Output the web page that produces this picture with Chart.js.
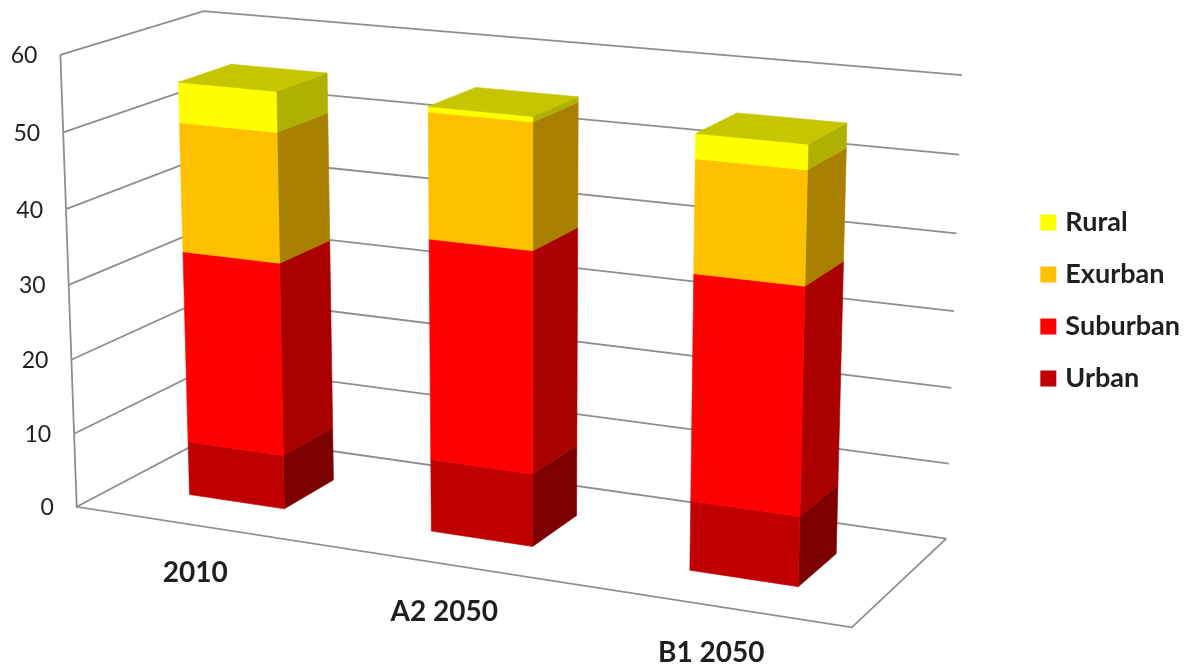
<!DOCTYPE html>
<html>
<head>
<meta charset="utf-8">
<title>Land use by scenario</title>
<script src="https://cdn.jsdelivr.net/npm/chart.js@4"></script>
<style>
  html, body { margin: 0; padding: 0; background: #fff; }
  canvas { display: block; }
</style>
</head>
<body>
<canvas id="chart" width="1190" height="667"></canvas>
<script>
// Chart data
const categories = ['2010', 'A2 2050', 'B1 2050'];
const urban = [7.3, 9.6, 9.0];
const suburban = [25.8, 28.9, 28.9];
const exurban = [17.1, 16.2, 14.2];
const rural = [5.3, 0.7, 3.1];
const yTicks = [0, 10, 20, 30, 40, 50, 60];

// Face colours per series: front, side
const frontColors = ['#c00000', '#ff0000', '#ffc000', '#ffff00'];
const sideColors = ['#7d0000', '#aa0000', '#aa8000', '#b0b000'];
const topColor = '#c6c600';
const gridColor = '#8e8e8e';
const textColor = '#1f1f1f';

// Depth range of a bar inside the box (0 = front edge, 1 = back wall)
const barDepth = [0.30, 0.68];

// Box corners on the page: [u, v, w] -> [x, y]
const boxCorners = [
  [[0, 0, 0], [76, 507]],
  [[1, 0, 0], [852, 627]],
  [[1, 0, 1], [946, 539]],
  [[0, 1, 0], [61, 55]],
  [[0, 1, 1], [203, 11]],
  [[1, 1, 1], [962, 75]],
  [[0, 0, 1], [215, 434]]
];

// Least squares fit of a 3D to 2D projective camera
function fitCamera(pairs) {
  const rows = [];
  const rhs = [];
  pairs.forEach(([[u, v, w], [x, y]]) => {
    rows.push([u, v, w, 1, 0, 0, 0, 0, -x * u, -x * v, -x * w]);
    rhs.push(x);
    rows.push([0, 0, 0, 0, u, v, w, 1, -y * u, -y * v, -y * w]);
    rhs.push(y);
  });
  const n = 11;
  const m = [];
  for (let i = 0; i < n; i++) {
    m.push(new Array(n + 1).fill(0));
    rows.forEach((r, k) => {
      for (let j = 0; j < n; j++) m[i][j] += r[i] * r[j];
      m[i][n] += r[i] * rhs[k];
    });
  }
  for (let c = 0; c < n; c++) {
    let p = c;
    for (let r = c + 1; r < n; r++) if (Math.abs(m[r][c]) > Math.abs(m[p][c])) p = r;
    [m[c], m[p]] = [m[p], m[c]];
    for (let r = 0; r < n; r++) {
      if (r === c) continue;
      const f = m[r][c] / m[c][c];
      for (let j = c; j <= n; j++) m[r][j] -= f * m[c][j];
    }
  }
  return m.map((row, i) => row[n] / row[i]);
}

const cam = fitCamera(boxCorners);

function project(u, v, w) {
  const d = cam[8] * u + cam[9] * v + cam[10] * w + 1;
  return [
    (cam[0] * u + cam[1] * v + cam[2] * w + cam[3]) / d,
    (cam[4] * u + cam[5] * v + cam[6] * w + cam[7]) / d
  ];
}

function polygon(ctx, points, color) {
  ctx.beginPath();
  points.forEach((p, i) => (i ? ctx.lineTo(p[0], p[1]) : ctx.moveTo(p[0], p[1])));
  ctx.closePath();
  ctx.fillStyle = color;
  ctx.strokeStyle = color;
  ctx.lineWidth = 0.6;
  ctx.fill();
  ctx.stroke();
}

// Draws walls, floor, labels and bars through the chart's own scales
const boxPlugin = {
  id: 'box3d',
  beforeDatasetsDraw(chart) {
    const { ctx, chartArea: area, scales } = chart;
    const toU = px => (px - area.left) / (area.right - area.left);
    const toV = px => (area.bottom - px) / (area.bottom - area.top);

    ctx.save();

    // grid on left wall and back wall
    ctx.strokeStyle = gridColor;
    ctx.lineWidth = 1.8;
    ctx.lineJoin = 'miter';
    scales.y.ticks.forEach(tick => {
      const v = toV(scales.y.getPixelForValue(tick.value));
      const a = project(0, v, 0), b = project(0, v, 1), c = project(1, v, 1);
      ctx.beginPath();
      ctx.moveTo(a[0], a[1]);
      ctx.lineTo(b[0], b[1]);
      ctx.lineTo(c[0], c[1]);
      ctx.stroke();
    });

    // left upright and floor outline
    const p0 = project(0, 1, 0), p1 = project(0, 0, 0), p2 = project(1, 0, 0), p3 = project(1, 0, 1);
    ctx.beginPath();
    ctx.moveTo(p0[0], p0[1]);
    ctx.lineTo(p1[0], p1[1]);
    ctx.lineTo(p2[0], p2[1]);
    ctx.lineTo(p3[0], p3[1]);
    ctx.stroke();

    // value labels
    ctx.fillStyle = textColor;
    ctx.font = '23px Lato';
    ctx.textAlign = 'right';
    ctx.textBaseline = 'middle';
    scales.y.ticks.forEach(tick => {
      const p = project(0, toV(scales.y.getPixelForValue(tick.value)), 0);
      ctx.fillText(tick.label, p[0] - 23, p[1] + 1);
    });

    // category labels
    ctx.font = 'bold 28px Lato';
    ctx.textAlign = 'center';
    scales.x.ticks.forEach((tick, i) => {
      const p = project(toU(scales.x.getPixelForValue(i)), 0, 0);
      ctx.fillText(scales.x.getLabelForValue(tick.value), p[0], p[1] + 48);
    });

    // stacked bars, bottom segment first
    const [w0, w1] = barDepth;
    chart.data.datasets.forEach((ds, di) => {
      chart.getDatasetMeta(di).data.forEach(bar => {
        const l = toU(bar.x - bar.width / 2);
        const r = toU(bar.x + bar.width / 2);
        const lo = toV(bar.base);
        const hi = toV(bar.y);
        polygon(ctx, [project(r, lo, w0), project(r, lo, w1), project(r, hi, w1), project(r, hi, w0)], sideColors[di]);
        polygon(ctx, [project(l, lo, w0), project(r, lo, w0), project(r, hi, w0), project(l, hi, w0)], frontColors[di]);
        if (di === chart.data.datasets.length - 1) {
          polygon(ctx, [project(l, hi, w0), project(r, hi, w0), project(r, hi, w1), project(l, hi, w1)], topColor);
        }
      });
    });

    ctx.restore();
    return false; // flat bars are replaced by the boxes above
  }
};

new Chart(document.getElementById('chart').getContext('2d'), {
  type: 'bar',
  data: {
    labels: categories,
    datasets: [
      { label: 'Urban', data: urban, backgroundColor: frontColors[0] },
      { label: 'Suburban', data: suburban, backgroundColor: frontColors[1] },
      { label: 'Exurban', data: exurban, backgroundColor: frontColors[2] },
      { label: 'Rural', data: rural, backgroundColor: frontColors[3] }
    ]
  },
  options: {
    responsive: false,
    animation: false,
    layout: { padding: { right: 0, bottom: 66 } },
    barPercentage: 0.40,
    categoryPercentage: 1,
    scales: {
      x: { stacked: true, display: false },
      y: {
        stacked: true,
        display: false,
        min: yTicks[0],
        max: yTicks[yTicks.length - 1],
        afterBuildTicks: scale => { scale.ticks = yTicks.map(value => ({ value, label: String(value) })); }
      }
    },
    plugins: {
      tooltip: { enabled: false },
      legend: {
        position: 'right',
        reverse: true,
        labels: {
          // narrow box slot keeps the square close to its text
          usePointStyle: true,
          pointStyle: 'rect',
          boxWidth: 7,
          boxHeight: 16,
          padding: 25,
          color: textColor,
          font: { family: 'Lato', size: 27, weight: 'bold' }
        }
      }
    }
  },
  plugins: [boxPlugin]
});
</script>
</body>
</html>
